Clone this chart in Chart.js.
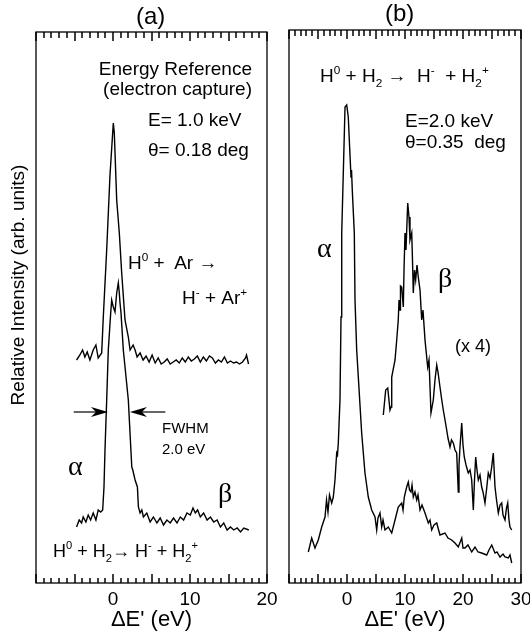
<!DOCTYPE html>
<html><head><meta charset="utf-8">
<script src="https://cdn.jsdelivr.net/npm/chart.js@4.4.1/dist/chart.umd.min.js"></script>
<style>
html,body{margin:0;padding:0;background:#fff;width:530px;height:633px;overflow:hidden;position:relative;}
canvas{position:absolute;top:0;}
.t{position:absolute;white-space:nowrap;font-family:"Liberation Sans",Arial,Helvetica,sans-serif;color:#000;line-height:1;}
.g{position:absolute;white-space:nowrap;font-family:"Liberation Serif","Times New Roman",serif;color:#000;line-height:1;}
sup,sub{font-size:0.62em;line-height:0;position:relative;vertical-align:baseline;}
sup{top:-0.7em;} sub{top:0.45em;}
</style></head>
<body>
<canvas id="ca" width="290" height="633" style="left:0px"></canvas>
<canvas id="cb" width="280" height="633" style="left:270px"></canvas>

<div class="t" style="left:136px;top:4px;font-size:24px;">(a)</div>
<div class="t" style="left:385px;top:1px;font-size:24px;">(b)</div>
<div class="t" style="left:-132px;top:275px;width:300px;text-align:center;font-size:19px;line-height:20px;transform:rotate(-90deg);">Relative Intensity (arb. units)</div>

<div class="t" style="right:278px;top:59px;font-size:19px;">Energy Reference</div>
<div class="t" style="right:278px;top:79px;font-size:19px;">(electron capture)</div>
<div class="t" style="left:148px;top:110px;font-size:19px;">E= 1.0 keV</div>
<div class="t" style="left:148px;top:140px;font-size:19px;">θ= 0.18 deg</div>
<div class="t" style="left:128px;top:253px;font-size:19px;">H<sup>0</sup> +&nbsp; Ar →</div>
<div class="t" style="left:182px;top:288px;font-size:19px;">H<sup>-</sup> +&nbsp;Ar<sup>+</sup></div>
<div class="t" style="left:162px;top:420px;font-size:15px;">FWHM</div>
<div class="t" style="left:162px;top:441px;font-size:15px;">2.0 eV</div>
<div class="g" style="left:68px;top:452px;font-size:28px;">α</div>
<div class="g" style="left:218px;top:479px;font-size:28px;">β</div>
<div class="t" style="left:53px;top:542px;font-size:18px;">H<sup>0</sup> + H<sub>2</sub>→ H<sup>-</sup> + H<sub>2</sub><sup>+</sup></div>

<div class="t" style="left:320px;top:66px;font-size:19px;">H<sup>0</sup> + H<sub>2</sub> → &nbsp;H<sup>-</sup> &nbsp;+ H<sub>2</sub><sup>+</sup></div>
<div class="t" style="left:405px;top:111px;font-size:19px;">E=2.0 keV</div>
<div class="t" style="left:405px;top:132px;font-size:19px;">θ=0.35 &nbsp;deg</div>
<div class="g" style="left:317px;top:234px;font-size:28px;">α</div>
<div class="g" style="left:438px;top:264px;font-size:28px;">β</div>
<div class="t" style="left:455px;top:337px;font-size:18px;">(x 4)</div>

<script>
// ---------- Panel (a): energy reference spectra ----------
const aXRange = [-10, 20];
const aTickValues = [0, 10, 20];
// H0 + Ar -> H- + Ar+ (upper trace)
const aArX = [-4.73,-4.30,-3.95,-3.65,-3.35,-3.00,-2.57,-2.22,-1.92,-1.47,-1.26,-0.82,-0.39,0.04,0.17,0.48,0.82,1.13,1.56,1.99,2.22,2.61,2.87,3.13,3.52,3.91,4.30,4.69,5.08,5.48,5.87,6.26,6.65,7.04,7.43,7.82,8.21,8.60,9.00,9.39,9.78,10.17,10.56,10.95,11.34,11.73,12.13,12.52,12.91,13.30,13.69,14.08,14.47,14.86,15.25,15.65,16.04,16.43,16.82,17.21,17.34,17.60];
const aArY = [22.4,22.9,23.4,22.7,23.2,22.4,23.4,23.9,22.6,23.1,26.7,33.4,40.9,46.1,45.1,38.4,35.1,31.1,26.4,24.7,23.4,23.9,23.4,22.7,23.1,22.4,22.8,22.2,22.9,22.1,22.6,22.0,22.2,22.5,22.0,22.2,22.4,22.1,22.6,22.2,22.7,22.3,22.5,22.8,22.2,22.7,22.3,22.8,22.6,22.1,22.4,22.2,22.7,22.1,22.3,22.1,22.2,22.0,22.2,22.6,22.9,22.0];
// H0 + H2 -> H- + H2+ (lower trace)
const aH2X = [-4.73,-4.39,-4.08,-3.87,-3.52,-3.22,-2.91,-2.57,-2.22,-1.92,-1.60,-1.34,-1.17,-1.04,-0.82,-0.61,-0.30,-0.17,0.04,0.26,0.48,0.69,0.82,0.91,1.04,1.34,1.99,2.44,2.57,2.87,3.17,3.30,3.52,3.74,3.95,4.39,4.82,5.25,5.70,6.13,6.56,7.00,7.43,7.86,8.31,8.74,9.17,9.61,10.04,10.39,10.69,10.99,11.34,11.77,12.22,12.65,13.08,13.52,13.95,14.38,14.82,15.25,15.68,16.13,16.56,16.99,17.64];
const aH2Y = [5.7,6.4,6.1,6.7,6.2,6.9,6.4,7.1,6.4,7.4,7.2,7.4,9.7,13.4,18.4,23.4,27.1,28.4,27.7,27.2,29.1,30.1,29.1,28.1,27.1,23.4,18.4,11.7,11.4,10.4,9.7,7.7,7.1,7.4,6.7,7.1,6.2,6.7,6.1,6.6,5.9,6.4,6.1,6.6,6.1,6.7,6.4,7.1,6.9,7.6,7.1,7.4,6.7,7.1,6.4,6.7,6.2,6.4,5.7,6.1,5.4,5.7,5.4,5.6,5.2,5.6,5.4];
// FWHM markers (arrow tails and tips, eV) and their height
const aFwhmLeft = [-5.1, -0.65];
const aFwhmRight = [6.8, 2.2];
const aFwhmLevel = 17.2;

// ---------- Panel (b): H0 + H2 -> H- + H2+ at 2.0 keV ----------
const bXRange = [-10, 30];
const bTickValues = [0, 10, 20, 30];
const bMainX = [-6.67,-6.09,-5.52,-4.95,-4.36,-3.79,-3.53,-3.28,-3.02,-2.64,-2.36,-2.07,-1.78,-1.64,-1.50,-1.21,-1.03,-0.91,-0.34,-0.05,0.22,0.69,0.78,0.91,1.26,1.38,1.67,2.53,3.10,3.67,4.26,4.83,5.12,5.34,5.69,5.98,6.21,6.55,7.12,7.71,8.28,8.84,9.43,9.66,9.88,10.29,10.57,10.78,11.03,11.21,11.43,11.72,12.02,12.24,12.59,12.93,13.45,14.02,14.31,14.60,15.00,15.47,16.03,16.90,17.41,18.05,18.62,19.19,19.78,20.00,20.34,20.86,21.50,22.07,22.59,23.22,24.09,24.48,24.95,25.52,25.86,26.38,26.90,27.24,27.81,28.10,28.40];
const bMainY = [3.2,4.6,3.6,4.4,5.7,6.7,8.4,7.2,8.9,8.1,8.7,10.4,13.1,12.9,14.1,18.4,26.7,35.1,47.7,47.9,46.7,40.7,41.4,39.4,35.1,28.4,23.4,15.1,11.1,8.7,7.4,6.7,5.4,6.6,7.1,5.7,6.4,5.4,5.7,5.1,6.4,7.7,8.1,7.4,8.7,9.7,10.2,9.4,9.2,9.9,8.7,9.2,8.4,8.9,7.4,7.9,7.1,6.1,6.4,5.4,5.9,6.1,4.9,5.1,4.6,4.4,4.1,3.7,4.6,3.6,3.6,3.9,3.2,3.7,3.2,3.1,2.9,3.4,3.9,3.1,3.2,2.7,3.0,2.7,2.6,2.9,2.1];
// beta region magnified x4
const bBetaX = [6.26,6.67,7.02,7.41,7.59,7.71,8.28,8.57,8.84,8.97,9.14,9.22,9.43,9.71,9.83,10.00,10.17,10.47,10.69,10.86,11.16,11.29,11.43,11.64,11.84,12.07,12.29,12.59,12.88,13.10,13.45,13.91,14.14,14.48,14.88,15.17,15.47,15.69,16.03,16.29,16.60,16.90,17.19,17.41,17.76,18.02,18.33,18.62,18.91,19.19,19.31,19.48,19.78,20.00,20.22,20.52,20.91,21.21,21.50,21.78,21.98,22.19,22.41,22.64,22.93,23.22,23.45,23.79,24.05,24.36,24.66,24.95,25.22,25.52,25.78,26.09,26.38,26.67,26.90,27.24,27.50,27.71,27.93,28.10,28.40];
const bBetaY = [16.9,19.4,19.6,17.4,17.7,20.7,22.4,24.4,26.4,28.4,27.4,29.8,29.7,27.7,31.4,35.1,33.4,38.1,36.7,34.4,35.1,32.4,29.1,31.4,30.4,31.9,30.7,29.4,26.4,27.4,24.4,21.7,22.4,17.1,18.4,20.4,21.9,21.2,19.7,18.6,17.4,16.4,15.4,14.6,13.7,14.4,14.1,13.4,13.1,9.2,11.9,13.7,16.1,13.9,12.7,11.9,11.1,11.4,10.4,7.4,10.4,12.7,11.4,10.4,10.9,9.7,9.2,8.1,9.4,11.1,10.6,11.7,13.1,9.7,8.4,7.1,7.9,8.1,6.9,6.4,7.6,8.1,6.4,5.7,5.4];

const xTitle = "ΔE' (eV)";
const pair = (xs, ys) => xs.map((x, i) => ({x, y: ys[i]}));

const framePlugin = {
  id: 'frameTicks',
  afterDraw(chart, args, opts) {
    const ctx = chart.ctx;
    const ca = chart.chartArea;
    const xs = chart.scales.x;
    const r = opts.xRange;
    ctx.save();
    ctx.strokeStyle = '#000';
    ctx.lineWidth = 1.3;
    ctx.strokeRect(ca.left, ca.top, ca.right - ca.left, ca.bottom - ca.top);
    ctx.lineWidth = 1.5;
    for (let v = r[0]; v <= r[1]; v++) {
      const px = Math.round(xs.getPixelForValue(v));
      const major = (((v % 5) + 5) % 5) === 0;
      const lb = major ? 9 : 5, lt = major ? 9 : 6;
      ctx.beginPath(); ctx.moveTo(px, ca.bottom); ctx.lineTo(px, ca.bottom - lb); ctx.stroke();
      ctx.beginPath(); ctx.moveTo(px, ca.top); ctx.lineTo(px, ca.top + lt); ctx.stroke();
    }
    ctx.restore();
  }
};

const arrowPlugin = {
  id: 'fwhmArrows',
  afterDatasetsDraw(chart, args, opts) {
    if (!opts.show) return;
    const {ctx, scales: {x, y}} = chart;
    const py = y.getPixelForValue(aFwhmLevel);
    const draw = (from, to) => {
      const x0 = x.getPixelForValue(from), x1 = x.getPixelForValue(to);
      const dir = Math.sign(x1 - x0);
      ctx.beginPath();
      ctx.moveTo(x0, py); ctx.lineTo(x1 - dir * 10, py);
      ctx.stroke();
      ctx.beginPath();
      ctx.moveTo(x1, py);
      ctx.lineTo(x1 - dir * 17, py - 5);
      ctx.lineTo(x1 - dir * 12, py);
      ctx.lineTo(x1 - dir * 17, py + 5);
      ctx.closePath();
      ctx.fill();
    };
    ctx.save();
    ctx.strokeStyle = '#000'; ctx.fillStyle = '#000'; ctx.lineWidth = 1.2;
    draw(aFwhmLeft[0], aFwhmLeft[1]);
    draw(aFwhmRight[0], aFwhmRight[1]);
    ctx.restore();
  }
};

function makeChart(id, datasets, xRange, tickValues, yMax, pad, arrows) {
  return new Chart(document.getElementById(id), {
    type: 'scatter',
    data: {datasets: datasets.map(d => ({
      data: d, showLine: true, borderColor: '#000', borderWidth: 1.4,
      pointRadius: 0, pointHoverRadius: 0, fill: false, tension: 0
    }))},
    options: {
      responsive: false, animation: false, events: [],
      layout: {padding: pad},
      plugins: {legend: {display: false}, tooltip: {enabled: false},
                fwhmArrows: {show: arrows}, frameTicks: {xRange: xRange}},
      scales: {
        x: {
          type: 'linear', min: xRange[0], max: xRange[1],
          grid: {display: false, drawTicks: false},
          border: {display: false},
          ticks: {
            stepSize: 10, autoSkip: false, maxRotation: 0, padding: 5.6, color: '#000',
            font: {family: "'Liberation Sans', Arial, sans-serif", size: 19, lineHeight: 1.2},
            callback: (v) => tickValues.includes(v) ? String(v) : ''
          },
          title: {
            display: true, text: xTitle, color: '#000',
            font: {family: "'Liberation Sans', Arial, sans-serif", size: 22, lineHeight: 1},
            padding: {top: -8, bottom: 0}
          }
        },
        y: {type: 'linear', min: 0.1, max: yMax, display: false}
      }
    },
    plugins: [framePlugin, arrowPlugin]
  });
}

makeChart('ca', [pair(aArX, aArY), pair(aH2X, aH2Y)], aXRange, aTickValues, 55.2,
  {left: 36, right: 23, top: 32, bottom: 2}, true);
makeChart('cb', [pair(bMainX, bMainY), pair(bBetaX, bBetaY)], bXRange, bTickValues, 55.4,
  {left: 19, right: 29, top: 30, bottom: 2}, false);
</script>
</body></html>
